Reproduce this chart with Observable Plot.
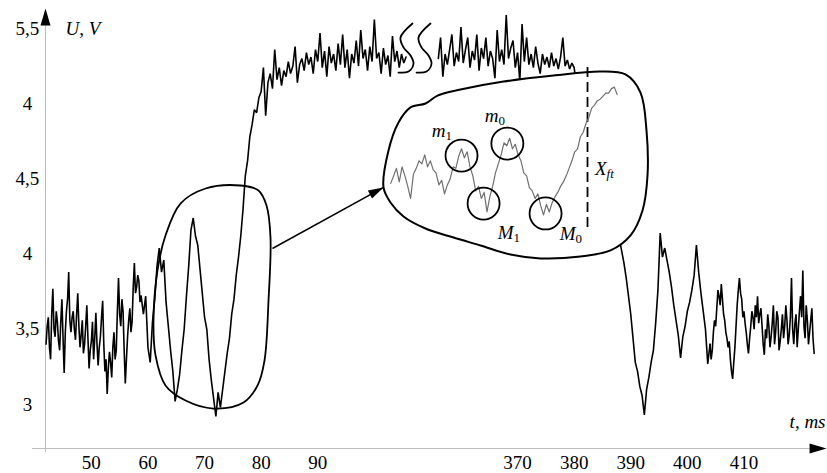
<!DOCTYPE html>
<html><head><meta charset="utf-8">
<script src="https://cdn.jsdelivr.net/npm/d3@7"></script>
<script src="https://cdn.jsdelivr.net/npm/@observablehq/plot@0.6"></script>
<style>body{margin:0;background:#fff} svg{display:block}</style>
</head><body><div id="chart"></div>
<script>
// ---- axis ticks (broken axes) ----
const xTicks = [50, 60, 70, 80, 90, 370, 380, 390, 400, 410];
const yTicks = [3, 3.5, 4, 4.5, 5, 5.5];
const yTickLabels = ["3", "3,5", "4", "4,5", "4", "5,5"];

// ---- signal U(t) ----
const fineMs = 0.2, sampleMs = 0.4;
const seg0Start = 42.0;   // noisy baseline, 0.2 ms samples
const seg0U = [3.40,3.52,3.58,3.38,3.30,3.60,3.77,3.50,3.45,3.62,3.55,3.42,3.36,3.55,3.70,3.44,3.21,3.48,3.62,3.70,
 3.88,3.56,3.48,3.58,3.62,3.50,3.43,3.60,3.74,3.52,3.38,3.46,3.56,3.34,3.40,3.52,3.66,3.44,3.24,3.36,
 3.42,3.55,3.30,3.44,3.61,3.40,3.26,3.38,3.45,3.58,3.69,3.40,3.22,3.30,3.07,3.24,3.35,3.28,3.18,3.38,
 3.48,3.30,3.36,3.62,3.84,3.60,3.52,3.70,3.62,3.36,3.14,3.30,3.45,3.56,3.64,3.48,3.55,3.78,3.94,3.74,
 3.78,3.86,3.82,3.68,3.72];
const seg1Start = 59.2;   // oscillations, rise and plateau before the break
const seg1U = [3.60,3.72,3.38,3.28,3.55,3.70,3.92,
 4.04,3.88,3.96,3.68,3.52,3.36,3.22,3.02,3.10,3.20,
 3.36,3.50,3.72,3.92,4.16,4.24,4.12,4.06,3.90,3.74,
 3.58,3.50,3.30,3.16,3.04,2.92,3.08,2.98,3.10,3.22,
 3.34,3.44,3.60,3.70,3.86,3.98,4.12,4.30,4.52,4.62,
 4.78,4.86,4.96,4.94,5.04,5.08,5.24,4.92,5.14,5.20,
 5.10,5.36,5.16,5.24,5.12,5.22,5.18,5.28,5.20,5.25,
 5.38,5.14,5.26,5.30,5.22,5.34,5.26,5.31,5.20,5.36,
 5.28,5.47,5.24,5.35,5.18,5.38,5.27,5.33,5.22,5.40,
 5.26,5.46,5.24,5.36,5.17,5.33,5.27,5.42,5.25,5.49,
 5.30,5.36,5.22,5.38,5.28,5.56,5.30,5.34,5.20,5.37,
 5.26,5.32,5.18,5.45,5.28,5.35,5.24,5.33,5.27,5.31];
const seg2aStart = 356.0; // plateau after the break
const seg2aU = [5.30,5.44,5.18,5.33,5.26,5.36,5.46,5.25,5.34,5.28,
 5.51,5.27,5.36,5.44,5.24,5.35,5.29,5.46,5.22,5.37,
 5.30,5.44,5.25,5.35,5.30,5.17,5.49,5.28,5.36,5.26,
 5.59,5.30,5.37,5.42,5.24,5.34,5.15,5.53,5.28,5.44,
 5.26,5.33,5.24,5.38,5.27,5.20,5.33,5.26,5.31,5.24,
 5.34,5.25,5.30,5.23,5.31,5.44,5.25,5.29,5.23,5.27,
 5.24,5.12];
const seg2bStart = 388.0; // fall emerging below the inset
const seg2bU = [4.10,4.02,3.94,3.84,3.72,3.60,3.44,3.28,3.22,3.12,
 3.06,2.93,3.10,3.18,3.28,3.36,3.54,3.76,4.14,3.98,
 4.04,3.96,3.88,3.78,3.66,3.56,3.46,3.31,3.45,3.52,
 3.62,3.68,3.76,3.86,4.06,3.88,3.74,3.62,3.50,3.27,
 3.40];
const seg2cStart = 404.0; // noisy tail, 0.2 ms samples
const seg2cU = [3.40,3.30,3.36,3.48,3.56,3.52,3.64,3.76,3.72,3.66,3.80,3.70,3.60,3.56,3.48,3.44,3.38,3.42,3.30,3.22,
 3.17,3.28,3.38,3.52,3.66,3.76,3.84,3.74,3.70,3.58,3.62,3.54,3.48,3.40,3.34,3.44,3.52,3.62,3.58,3.50,
 3.66,3.58,3.72,3.54,3.60,3.64,3.52,3.40,3.33,3.50,3.44,3.60,3.52,3.38,3.45,3.54,3.66,3.40,3.48,3.62,
 3.58,3.36,3.42,3.50,3.60,3.44,3.52,3.66,3.56,3.40,3.46,3.58,3.84,3.50,3.40,3.54,3.60,3.38,3.50,3.62,
 3.72,3.58,3.89,3.52,3.44,3.66,3.56,3.40,3.48,3.56,3.64,3.44,3.34];

// ---- inset (magnified trace), sampled every 0.5 ms ----
const insetStep = 0.5;
const insetStart = 347.6;
const insetU = [4.47,4.52,4.57,4.48,4.58,4.52,4.45,4.37,4.53,4.57,
 4.62,4.60,4.66,4.58,4.62,4.56,4.54,4.46,4.49,4.40,
 4.46,4.50,4.58,4.57,4.65,4.70,4.64,4.68,4.58,4.52,
 4.42,4.45,4.37,4.41,4.28,4.38,4.45,4.54,4.60,4.66,
 4.74,4.72,4.77,4.70,4.73,4.66,4.62,4.54,4.52,4.44,
 4.42,4.37,4.40,4.32,4.26,4.33,4.28,4.34,4.38,4.41,
 4.45,4.48,4.52,4.57,4.62,4.68,4.70,4.78,4.81,4.87,
 4.91,4.97,4.99,5.02,5.03,5.05,5.07,5.07,5.10,5.11,
 5.06];

// ---- annotations (data coordinates) ----
const ellipseT = [76.35,79.53,80.95,81.65,81.30,80.59,79.36,76.88,71.58,66.64,63.10,61.34,60.98,61.69,63.10,65.75,70.17];
const ellipseU = [4.456,4.423,4.323,4.110,3.691,3.292,3.126,3.013,2.973,3.026,3.126,3.326,3.558,3.891,4.123,4.336,4.436];
const blobT = [346.32,347.20,348.97,351.09,353.74,355.86,359.92,367.52,376.35,384.66,389.07,391.72,392.78,392.96,392.08,389.96,386.42,381.12,374.06,368.76,363.46,358.69,353.74,349.85,347.55];
const blobU = [4.443,4.689,4.875,4.975,5.001,5.054,5.094,5.147,5.187,5.214,5.194,5.074,4.822,4.522,4.290,4.124,4.024,3.984,3.971,3.997,4.057,4.110,4.170,4.250,4.343];
const circleT = [360.1, 368.2, 364.0, 374.95];
const circleU = [4.655, 4.735, 4.336, 4.270];
const labelMain = ["m", "m", "M", "M", "X"];
const labelSub = ["1", "0", "1", "0", "ft"];
const labelT = [357.27, 366.64, 369.29, 380.24, 385.72];
const labelU = [4.822, 4.921, 4.143, 4.137, 4.569];
const fitT = 382.36, fitU1 = 4.177, fitU2 = 5.254;
const breakT = [[351.44,349.32,349.85,351.09,351.62,350.74,348.97],[354.62,352.50,353.03,354.27,354.80,353.92,352.15]];
const breakU = [5.533,5.440,5.374,5.320,5.267,5.214,5.207];
const pointerFrom = {t: 82.0, u: 4.037}, pointerTo = {t: 346.32, u: 4.443};

// ---- broken time axis ----
const gapShift = 244.7;
const toX = t => (t < 200 ? t : t - gapShift);
const axisT = 41.9, axisU = 2.707;

const rows = (start, step, vals) => vals.map((u, i) => ({t: start + step * i, u}));
const segments = [
  rows(seg0Start, fineMs, seg0U),
  rows(seg1Start - sampleMs, sampleMs, [seg0U[seg0U.length - 1], ...seg1U]),
  rows(seg2aStart, sampleMs, seg2aU),
  rows(seg2bStart, sampleMs, seg2bU),
  rows(seg2cStart, fineMs, seg2cU)
];
const inset = rows(insetStart, insetStep, insetU);
const ellipse = ellipseT.map((t, i) => ({t, u: ellipseU[i]}));
const blob = blobT.map((t, i) => ({t, u: blobU[i]}));
const circles = circleT.map((t, i) => ({t, u: circleU[i]}));
const labels = labelMain.map((m, i) => ({m, s: labelSub[i], t: labelT[i], u: labelU[i]}));
const breaks = breakT.flatMap((ts, k) => ts.map((t, i) => ({k, t, u: breakU[i]})));

const serif = "Liberation Serif";
const arrowHead = {draw(ctx, size) {
  const r = Math.sqrt(size / Math.PI);
  ctx.moveTo(0, 0); ctx.lineTo(0.5 * r, 1.7 * r); ctx.lineTo(-0.5 * r, 1.7 * r); ctx.closePath();
}};
const X = d => toX(d.t), Y = d => d.u;
const sig = {x: X, y: Y, stroke: "black", strokeWidth: 1.6, strokeLinejoin: "miter", strokeMiterlimit: 2};
const txt = {fontSize: 19, fontFamily: serif, lineAnchor: "middle"};

const chart = Plot.plot({
  width: 827, height: 473, margin: 0,
  x: {domain: [33.95, 180.06], axis: null},
  y: {domain: [2.541, 5.686], axis: null},
  style: {background: "white", fontFamily: serif},
  marks: [
    Plot.ruleX([axisT], {x: d => d, y1: 2.681, y2: 5.566, stroke: "#bbb"}),
    Plot.ruleY([axisU], {y: d => d, x1: 39.6, x2: 177.95, stroke: "#bbb"}),
    Plot.dot([{t: axisT, u: 5.633}], {x: X, y: Y, symbol: arrowHead, r: 10, fill: "black", stroke: null}),
    Plot.dot([{t: 424.59, u: axisU}], {x: X, y: Y, symbol: arrowHead, r: 10, rotate: 90, fill: "black", stroke: null}),
    Plot.text(yTicks, {...txt, x: () => 38.72, y: d => d, text: (d, i) => yTickLabels[i], textAnchor: "middle"}),
    Plot.text(xTicks, {...txt, x: d => toX(d), y: () => 2.614, text: d => String(d), textAnchor: "middle"}),
    Plot.text(["U, V"], {...txt, x: () => 45.43, y: () => 5.50, text: d => d, fontStyle: "italic", textAnchor: "start"}),
    Plot.text(["t, ms"], {...txt, x: () => toX(424.41), y: () => 2.887, text: d => d, fontStyle: "italic", textAnchor: "end"}),
    ...segments.map(s => Plot.line(s, sig)),
    Plot.line(ellipse, {x: X, y: Y, curve: "catmull-rom-closed", stroke: "black", strokeWidth: 1.8}),
    Plot.link([0], {x1: () => toX(pointerFrom.t), y1: () => pointerFrom.u, x2: () => toX(pointerTo.t), y2: () => pointerTo.u, stroke: "black", strokeWidth: 1.5}),
    Plot.line(blob, {x: X, y: Y, curve: "catmull-rom-closed", fill: "white", stroke: "black", strokeWidth: 2}),
    Plot.dot([pointerTo], {x: X, y: Y, symbol: arrowHead, r: 9, rotate: 62.4, fill: "black", stroke: null}),
    Plot.ruleX([fitT], {x: d => toX(d), y1: fitU1, y2: fitU2, stroke: "black", strokeWidth: 1.8, strokeDasharray: "10,5"}),
    Plot.line(inset, {x: X, y: Y, stroke: "#707070", strokeWidth: 1.2}),
    Plot.dot(circles, {x: X, y: Y, r: 16, stroke: "black", strokeWidth: 1.8, fill: "none"}),
    Plot.text(labels, {...txt, x: X, y: Y, text: "m", fontStyle: "italic", textAnchor: "end"}),
    Plot.text(labels.filter(d => d.s !== "ft"), {...txt, x: X, y: Y, text: "s", dy: 5, fontSize: 13, textAnchor: "start"}),
    Plot.text(labels.filter(d => d.s === "ft"), {...txt, x: X, y: Y, text: "s", dy: 5, fontSize: 13, fontStyle: "italic", textAnchor: "start"}),
    Plot.line(breaks, {x: X, y: Y, z: "k", curve: "catmull-rom", stroke: "black", strokeWidth: 1.8})
  ]
});
document.getElementById("chart").append(chart);
</script></body></html>
